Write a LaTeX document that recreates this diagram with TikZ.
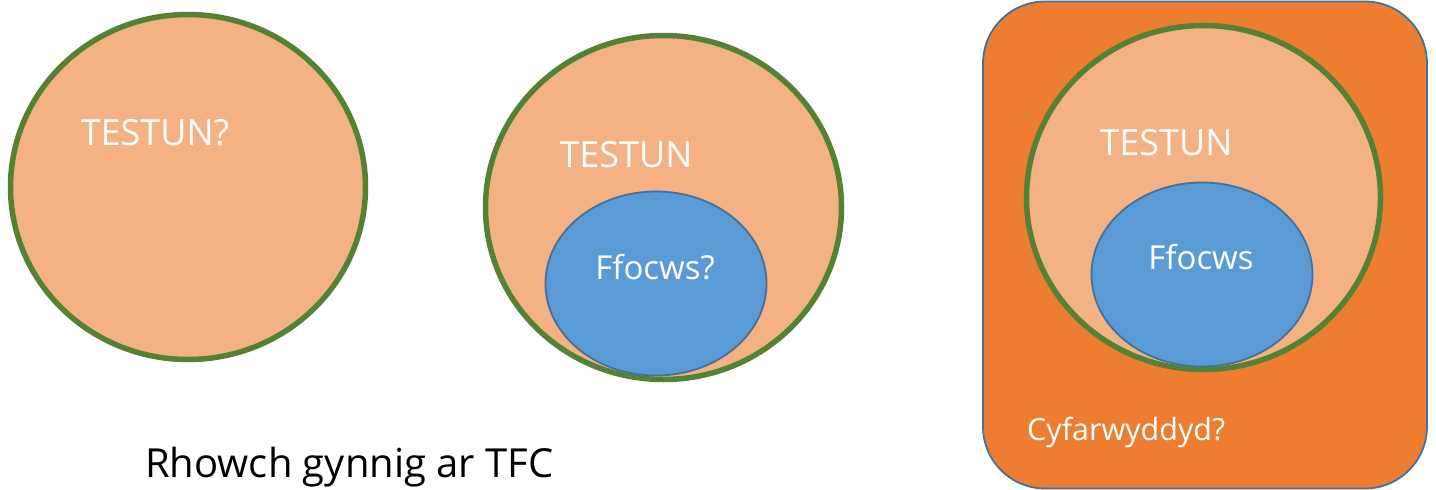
\documentclass[tikz,border=0pt]{standalone}
\usepackage{fontspec}
\setmainfont{Open Sans}
\definecolor{peach}{HTML}{F4B183}
\definecolor{leaf}{HTML}{548235}
\definecolor{skyblue}{HTML}{5B9BD5}
\definecolor{edgeblue}{HTML}{41719C}
\definecolor{orangebg}{HTML}{ED7D31}
\tikzset{
  topic/.style={ellipse, fill=peach, draw=leaf, line width=5.5pt, inner sep=0pt},
  focus/.style={ellipse, fill=skyblue, draw=edgeblue, line width=1.8pt, inner sep=0pt},
  whitelabel/.style={text=white, font=\fontsize{33}{33}\selectfont, inner sep=0pt},
  bigwhite/.style={whitelabel, font=\fontsize{36}{36}\selectfont},
  blacklabel/.style={text=black, font=\fontsize{40}{40}\selectfont, inner sep=0pt},
  panel/.style={fill=orangebg, draw=edgeblue, line width=1.8pt, rounded corners=62pt}
}
\usetikzlibrary{shapes.geometric}
\begin{document}
\begin{tikzpicture}[x=1pt,y=-1pt]
\useasboundingbox (0,0) rectangle (1436,490);
% left
\node[topic, minimum width=355pt, minimum height=345pt] (c1) at (188,187) {};
\node[bigwhite] (t1) at (155,133) {TESTUN?};
% middle
\node[topic, minimum width=356pt, minimum height=344pt] (c2) at (663.5,207.5) {};
\node[bigwhite] (t2) at (626,155) {TESTUN};
\node[focus, minimum width=221pt, minimum height=184pt] (f2) at (656,283.5) {};
\node[whitelabel] (ff2) at (655,267) {Ffocws?};
% right
\draw[panel] (983,1.5) rectangle (1427,488.5);
\node[topic, minimum width=354pt, minimum height=344pt] (c3) at (1203.5,197.5) {};
\node[bigwhite] (t3) at (1166,143) {TESTUN};
\node[focus, minimum width=221pt, minimum height=184pt] (f3) at (1202,274.5) {};
\node[whitelabel] (ff3) at (1201,257) {Ffocws};
\node[whitelabel, font=\fontsize{30.5}{30.5}\selectfont, anchor=base west] (cy) at (1027,440) {Cyfarwyddyd?};
% bottom
\node[blacklabel, anchor=base west] (rh) at (145,477) {Rhowch gynnig ar TFC};
\end{tikzpicture}
\end{document}
